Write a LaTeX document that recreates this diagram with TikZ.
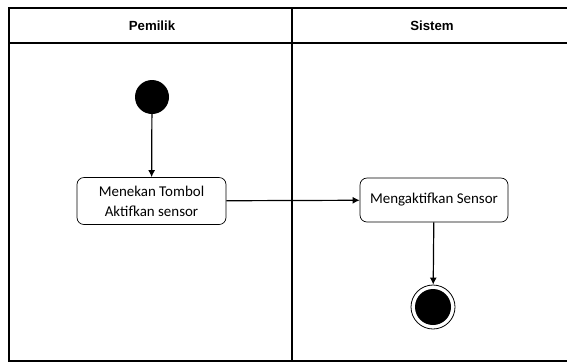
\documentclass[tikz,border=0pt]{standalone}
\usepackage{fontspec}
\setmainfont{Carlito}
\newfontfamily\headfont{Liberation Sans}
\usetikzlibrary{arrows.meta}
\begin{document}
\begin{tikzpicture}[x=1bp,y=-1bp,
  lane/.style={line width=1.7pt,draw=black},
  lanehead/.style={font=\headfont\bfseries\fontsize{13.3}{15}\selectfont},
  action/.style={draw=black,line width=0.7pt,rounded corners=7bp,fill=white,
    minimum width=149bp,minimum height=47bp,align=center,inner sep=2pt,
    font=\fontsize{15}{20}\selectfont},
  flow/.style={line width=1.2pt,-{Latex[length=7bp,width=7bp]}}]
  \useasboundingbox (0,0) rectangle (567,363);
  % swimlane frame
  \draw[lane] (570,8) -- (9,8) -- (9,361) -- (570,361);
  \draw[lane] (9,43) -- (570,43);
  \draw[lane] (292,8) -- (292,361);
  \node[lanehead] (h1) at (152,26) {Pemilik};
  \node[lanehead] (h2) at (432,26) {Sistem};
  % activity nodes
  \node[circle,fill=black,minimum size=34bp,inner sep=0pt] (start) at (152,97) {};
  \node[action] (a1) at (151.5,201) {Menekan Tombol\\Aktifkan sensor};
  \node[action,minimum width=148bp,minimum height=44bp] (a2) at (434,200) {Mengaktifkan Sensor};
  \node[circle,draw=black,line width=0.8pt,minimum size=44bp,inner sep=0pt] (stop) at (433,307) {};
  \node[circle,fill=black,minimum size=36bp,inner sep=0pt] at (stop) {};
  % control flow
  \draw[flow] (start) -- (a1);
  \draw[flow] (a1) -- (a2);
  \draw[flow] (a2) -- (stop);
\end{tikzpicture}
\end{document}
